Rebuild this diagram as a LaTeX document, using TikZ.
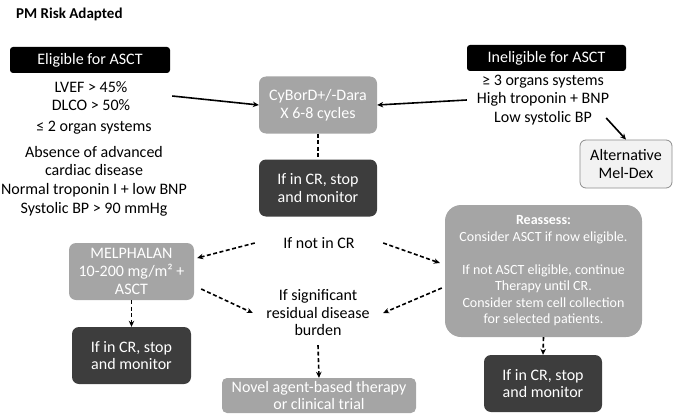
\documentclass[tikz,border=0pt]{standalone}
\usepackage{fontspec}
\setmainfont{Carlito}
\usetikzlibrary{arrows.meta}
\definecolor{boxgray}{HTML}{A5A5A5}
\definecolor{boxdark}{HTML}{3D3D3D}
\definecolor{altfill}{HTML}{F2F2F2}
\definecolor{altline}{HTML}{8C8C8C}
\begin{document}
\begin{tikzpicture}[x=1pt,y=-1pt,
  every node/.style={font=\fontsize{16}{18.7}\selectfont, inner sep=0pt, align=center},
  hdr/.style={fill=black, text=white, rounded corners=3pt, minimum width=160pt, minimum height=26pt},
  graybox/.style={fill=boxgray, text=white, rounded corners=7pt, font=\fontsize{16}{17.7}\selectfont},
  darkbox/.style={fill=boxdark, text=white, rounded corners=7pt, minimum width=118pt, minimum height=57pt, font=\fontsize{16}{17.7}\selectfont},
  arr/.style={line width=1.6pt, -{Stealth[length=6pt,width=5.5pt]}},
  darr/.style={arr, dash pattern=on 4pt off 2.5pt},
  dline/.style={line width=1.6pt, dash pattern=on 4pt off 2.5pt}]
\useasboundingbox (0,0) rectangle (680,420);
\node[anchor=west, font=\fontsize{15}{17}\selectfont\bfseries] (title) at (16,14) {PM Risk Adapted};
% left column
\node[hdr] (elig) at (90,60) {Eligible for ASCT};
\node[minimum width=162pt] (lv) at (91,96) {LVEF > 45\%\\DLCO > 50\%};
\node (org) at (94,128) {≤ 2 organ systems};
\node (abs) at (94,181) {Absence of advanced\\cardiac disease\\Normal troponin I + low BNP\\Systolic BP > 90 mmHg};
% centre column
\node[graybox, minimum width=118pt, minimum height=57pt] (cyb) at (318,105) {CyBorD+/-Dara\\X 6-8 cycles};
\node[darkbox] (stop1) at (318,188) {If in CR, stop\\and monitor};
% right column
\node[hdr, minimum width=159pt] (inel) at (546.5,58) {Ineligible for ASCT};
\node[minimum width=152pt] (ineltx) at (543,100) {≥ 3 organs systems\\High troponin + BNP\\Low systolic BP};
\node[fill=altfill, draw=altline, line width=0.8pt, rounded corners=6pt, minimum width=92pt, minimum height=48pt, font=\fontsize{16}{17.7}\selectfont] (alt) at (626,164) {Alternative\\Mel-Dex};
% lower part
\node[minimum width=128pt] (notcr) at (319,243) {If not in CR};
\node[graybox, minimum width=125pt, minimum height=57pt] (mel) at (131.5,271.5) {MELPHALAN\\10-200 mg/m² +\\ASCT};
\node[darkbox, minimum width=119pt] (stop2) at (131.5,355.5) {If in CR, stop\\and monitor};
\node[minimum width=130pt, minimum height=64pt, font=\fontsize{16}{17.5}\selectfont] (resid) at (318,313) {If significant\\residual disease\\burden};
\node[graybox, minimum width=194pt, minimum height=35pt, rounded corners=5pt] (novel) at (319,395.5) {Novel agent-based therapy\\or clinical trial};
\node[graybox, rounded corners=16pt, minimum width=197pt, minimum height=132pt, font=\fontsize{14}{16.5}\selectfont] (reas) at (543.5,271) {\textbf{Reassess:}\\Consider ASCT if now eligible.\\[16.5pt]If not ASCT eligible, continue\\Therapy until CR.\\Consider stem cell collection\\for selected patients.};
\node[darkbox] (stop3) at (543,383.5) {If in CR, stop\\and monitor};
% connectors
\draw[arr] (lv.east) -- (cyb.west);
\draw[arr] (ineltx.west) -- (cyb.east);
\draw[arr] ([xshift=-13pt,yshift=-18pt]ineltx.east) -- (alt.north);
\draw[dline] (cyb.south) -- (stop1.north);
\draw[darr] (notcr.west) -- ([xshift=3pt,yshift=13.5pt]mel.east);
\draw[darr] (notcr.east) -- ([xshift=-5pt,yshift=8pt]reas.west);
\draw[darr] ([xshift=7pt,yshift=-17.5pt]mel.east) -- (resid.west);
\draw[darr] ([xshift=-3pt,yshift=-17pt]reas.west) -- (resid.east);
\draw[darr] (mel.south) -- (stop2.north);
\draw[darr] (resid.south) -- (novel.north);
\draw[darr] (reas.south) -- (stop3.north);
\end{tikzpicture}
\end{document}
